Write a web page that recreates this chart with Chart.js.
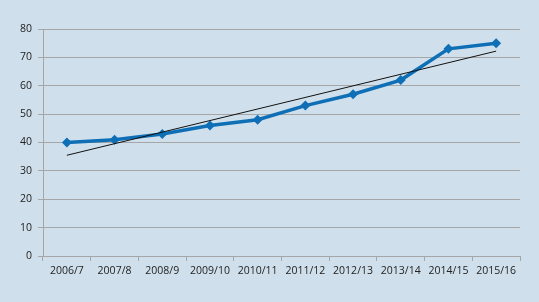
<!DOCTYPE html>
<html>
<head>
<meta charset="utf-8">
<script src="https://cdn.jsdelivr.net/npm/chart.js@4/dist/chart.umd.min.js"></script>
<style>
  html, body { margin: 0; padding: 0; background: #cfe0ec; }
  #wrap { width: 539px; height: 302px; }
</style>
</head>
<body>
<div id="wrap"><canvas id="myChart" width="539" height="302"></canvas></div>
<script>
// categories and values
var years = ["2006/7", "2007/8", "2008/9", "2009/10", "2010/11", "2011/12", "2012/13", "2013/14", "2014/15", "2015/16"];
var values = [40, 41, 43, 46, 48, 53, 57, 62, 73, 75];
// trend line end points
var trend = [35.5, null, null, null, null, null, null, null, null, 72.2];
var yTicks = [0, 10, 20, 30, 40, 50, 60, 70, 80];

var lineColor = "#0f6fb6";
var gridColor = "#a6a6a6";

Chart.defaults.font.family = "'Open Sans', 'Liberation Sans', sans-serif";
Chart.defaults.font.size = 10.5;
Chart.defaults.color = "#222";

new Chart("myChart", {
  type: "line",
  data: {
    labels: years,
    datasets: [{
      data: values,
      borderColor: lineColor,
      backgroundColor: lineColor,
      borderWidth: 3.5,
      pointStyle: "rectRot",
      pointRadius: 5,
      pointBorderWidth: 0,
      tension: 0,
      order: 1
    }, {
      data: trend,
      borderColor: "#111",
      borderWidth: 1,
      pointRadius: 0,
      spanGaps: true,
      tension: 0,
      order: 0
    }]
  },
  options: {
    responsive: false,
    animation: false,
    layout: { padding: { top: 29, right: 19, left: 0, bottom: 0 } },
    plugins: { legend: { display: false }, tooltip: { enabled: false } },
    scales: {
      x: {
        offset: true,
        grid: {
          offset: true,
          drawOnChartArea: false,
          color: gridColor,
          tickLength: 5
        },
        border: { color: gridColor, width: 1 },
        ticks: { padding: 4, maxRotation: 0, autoSkip: false },
        afterFit: function(s) { s.height = 46; }
      },
      y: {
        min: 0,
        max: 80,
        afterBuildTicks: function(s) { s.ticks = yTicks.map(function(v) { return { value: v }; }); },
        grid: { color: gridColor, lineWidth: 1, tickLength: 5 },
        border: { color: gridColor, width: 1 },
        ticks: { padding: 6 },
        afterFit: function(s) { s.width = 43; }
      }
    }
  }
});
</script>
</body>
</html>
